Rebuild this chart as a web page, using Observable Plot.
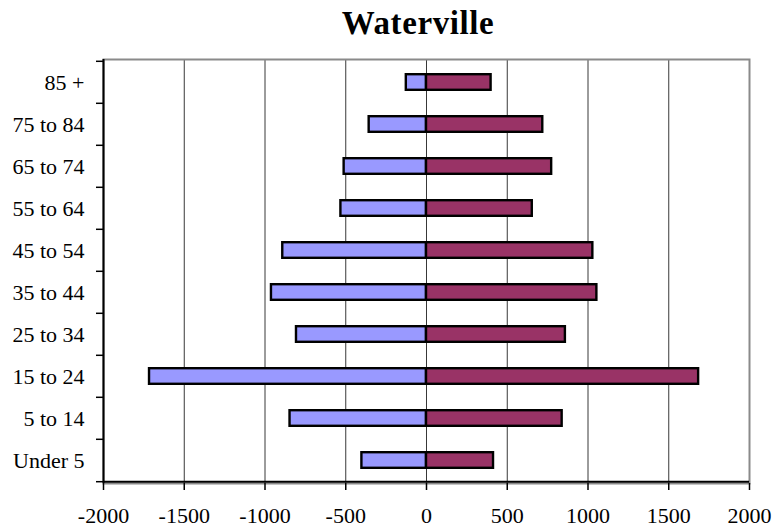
<!DOCTYPE html>
<html>
<head>
<meta charset="utf-8">
<script src="https://cdn.jsdelivr.net/npm/d3@7"></script>
<script src="https://cdn.jsdelivr.net/npm/@observablehq/plot@0.6"></script>
<style>
  html, body { margin: 0; padding: 0; background: #fff; }
  #wrap { position: relative; width: 775px; height: 532px; }
  #title {
    position: absolute; top: 0; left: 418px; transform: translateX(-50%);
    height: 50px; line-height: 46px; white-space: nowrap;
    font-family: "Liberation Serif", "DejaVu Serif", serif;
    font-weight: bold; font-size: 33px; letter-spacing: 0.6px; color: #000;
  }
  #chart { position: absolute; top: 50px; left: 0; }
</style>
</head>
<body>
<div id="wrap">
  <div id="title">Waterville</div>
  <div id="chart"></div>
</div>
<script>
// Age groups, oldest at the top
const ageGroups = ["85 +", "75 to 84", "65 to 74", "55 to 64", "45 to 54",
                   "35 to 44", "25 to 34", "15 to 24", "5 to 14", "Under 5"];
// Left side (drawn as negative counts)
const males   = [-125, -355, -510, -530, -890, -960, -805, -1715, -845, -400];
// Right side
const females = [400, 720, 775, 655, 1030, 1055, 860, 1685, 840, 415];
// Axis ticks
const xTicks = [-2000, -1500, -1000, -500, 0, 500, 1000, 1500, 2000];
const gridTicks = [-1500, -1000, -500, 0, 500, 1000, 1500];

const rows = ageGroups.map((g, i) => ({group: g, male: males[i], female: females[i]}));

const width = 775, height = 482;
const marginTop = 9, marginBottom = 49, marginLeft = 103, marginRight = 26;
const step = (height - marginTop - marginBottom) / ageGroups.length;
const font = "Liberation Serif, DejaVu Serif, serif";

const chart = Plot.plot({
  width, height, marginTop, marginBottom, marginLeft, marginRight,
  style: {fontFamily: font, fontSize: "22px", color: "#000", background: "#fff"},
  x: {domain: [-2000, 2000], label: null},
  y: {domain: ageGroups, padding: 0, align: 0.5, label: null},
  marks: [
    // vertical gridlines
    Plot.ruleX(gridTicks, {stroke: "#000", strokeOpacity: 0.78, strokeWidth: 1}),
    // plot frame: grey on top and right
    Plot.frame({stroke: "#8a8a8a", strokeWidth: 2}),
    // bars
    Plot.barX(rows, {y: "group", x1: 0, x2: "male", fill: "#9999FF",
      stroke: "#000", strokeWidth: 2.4, insetTop: 13.2, insetBottom: 13.2}),
    Plot.barX(rows, {y: "group", x1: 0, x2: "female", fill: "#993366",
      stroke: "#000", strokeWidth: 2.4, insetTop: 13.2, insetBottom: 13.2}),
    // black axis lines on left and bottom
    Plot.ruleX([-2000], {stroke: "#000", strokeWidth: 2}),
    Plot.ruleY(["Under 5"], {stroke: "#000", strokeWidth: 2, dy: step / 2,
      x1: -2000, x2: 2000}),
    // category labels
    Plot.axisY({tickSize: 0, tickPadding: 19, fontSize: 22, label: null}),
    // tick marks at the band boundaries
    Plot.axisY({tickSize: 7, tickFormat: null, dy: -step / 2, strokeWidth: 1.5, label: null}),
    Plot.axisY({ticks: ["Under 5"], tickSize: 7, tickFormat: null, dy: step / 2,
      strokeWidth: 1.5, label: null}),
    // x axis
    Plot.axisX({ticks: xTicks, tickSize: 7, tickPadding: 17, tickFormat: d => String(d),
      fontSize: 22, strokeWidth: 1.5, label: null})
  ]
});
document.getElementById("chart").appendChild(chart);
</script>
</body>
</html>
